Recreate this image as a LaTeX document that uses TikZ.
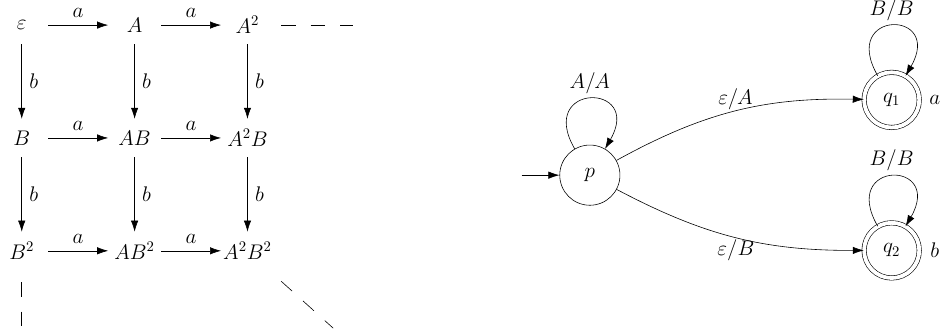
\documentclass[tikz,border=0pt]{standalone}
\usepackage{amsmath}
\usepackage{amssymb}
\usetikzlibrary{arrows.meta, positioning}

\begin{document}
\begin{tikzpicture}[
    node distance=2.7cm,
    on grid,
    font=\Large,
    word/.style={minimum width=1.25cm, minimum height=0.9cm, inner sep=0pt},
    trans/.style={-{Latex[length=7.5pt, width=5pt]}},
    lab/.style={inner sep=5pt},
    more/.style={dash pattern=on 10pt off 10pt},
    state/.style={circle, draw, minimum size=1.44cm},
    final/.style={circle, draw, double, double distance=2.6pt, minimum size=1.32cm},
    selfloop/.style={out=120, in=60, distance=1.84cm}
]
    \useasboundingbox (0,0) rectangle (22.51,-7.92);

    % Words over A and B
    \node[word] (e) at (0.52,-0.6) {$\varepsilon$};
    \node[word] (a1) [right=of e] {$A$};
    \node[word] (a2) [right=of a1] {$A^2$};
    \node[word] (b1) [below=of e] {$B$};
    \node[word] (a1b1) [right=of b1] {$AB$};
    \node[word] (a2b1) [right=of a1b1] {$A^2B$};
    \node[word] (b2) [below=of b1] {$B^2$};
    \node[word] (a1b2) [right=of b2] {$AB^2$};
    \node[word] (a2b2) [right=of a1b2] {$A^2B^2$};

    % Multiply by a
    \draw[trans] (e) -- node[above, lab] {$a$} (a1);
    \draw[trans] (a1) -- node[above, lab] {$a$} (a2);
    \draw[trans] (b1) -- node[above, lab] {$a$} (a1b1);
    \draw[trans] (a1b1) -- node[above, lab] {$a$} (a2b1);
    \draw[trans] (b2) -- node[above, lab] {$a$} (a1b2);
    \draw[trans] (a1b2) -- node[above, lab] {$a$} (a2b2);

    % Multiply by b
    \draw[trans] (e) -- node[right, lab] {$b$} (b1);
    \draw[trans] (b1) -- node[right, lab] {$b$} (b2);
    \draw[trans] (a1) -- node[right, lab] {$b$} (a1b1);
    \draw[trans] (a1b1) -- node[right, lab] {$b$} (a1b2);
    \draw[trans] (a2) -- node[right, lab] {$b$} (a2b1);
    \draw[trans] (a2b1) -- node[right, lab] {$b$} (a2b2);

    % And so on
    \coordinate[right=2.53cm of a2] (ahead);
    \coordinate[below=1.85cm of b2] (bhead);
    \coordinate[below right=1.85cm and 2.05cm of a2b2] (abhead);
    \draw[more, shorten <=5pt] (a2) -- (ahead);
    \draw[more, shorten <=8.4pt] (b2) -- (bhead);
    \draw[more, shorten <=11.5pt] (a2b2) -- (abhead);

    % Automaton
    \node[state] (p) at (14.11,-4.19) {$p$};
    \node[final] (q1) [above right=1.8cm and 7.22cm of p] {$q_1$};
    \node[final] (q2) [below right=1.8cm and 7.22cm of p] {$q_2$};
    \node (qa) [right=1.03cm of q1] {$a$};
    \node (qb) [right=1.03cm of q2] {$b$};
    \coordinate[left=1.63cm of p] (start);

    \draw[trans] (start) -- (p);
    \draw[trans] (p) to[selfloop] node[above] {$A/A$} (p);
    \draw[trans] (q1) to[selfloop] node[above] {$B/B$} (q1);
    \draw[trans] (q2) to[selfloop] node[above] {$B/B$} (q2);
    \draw[trans] (p) to[bend left=15] node[above, inner sep=1pt] {$\varepsilon/A$} (q1);
    \draw[trans] (p) to[bend right=14] node[below, inner sep=1pt] {$\varepsilon/B$} (q2);
\end{tikzpicture}
\end{document}
